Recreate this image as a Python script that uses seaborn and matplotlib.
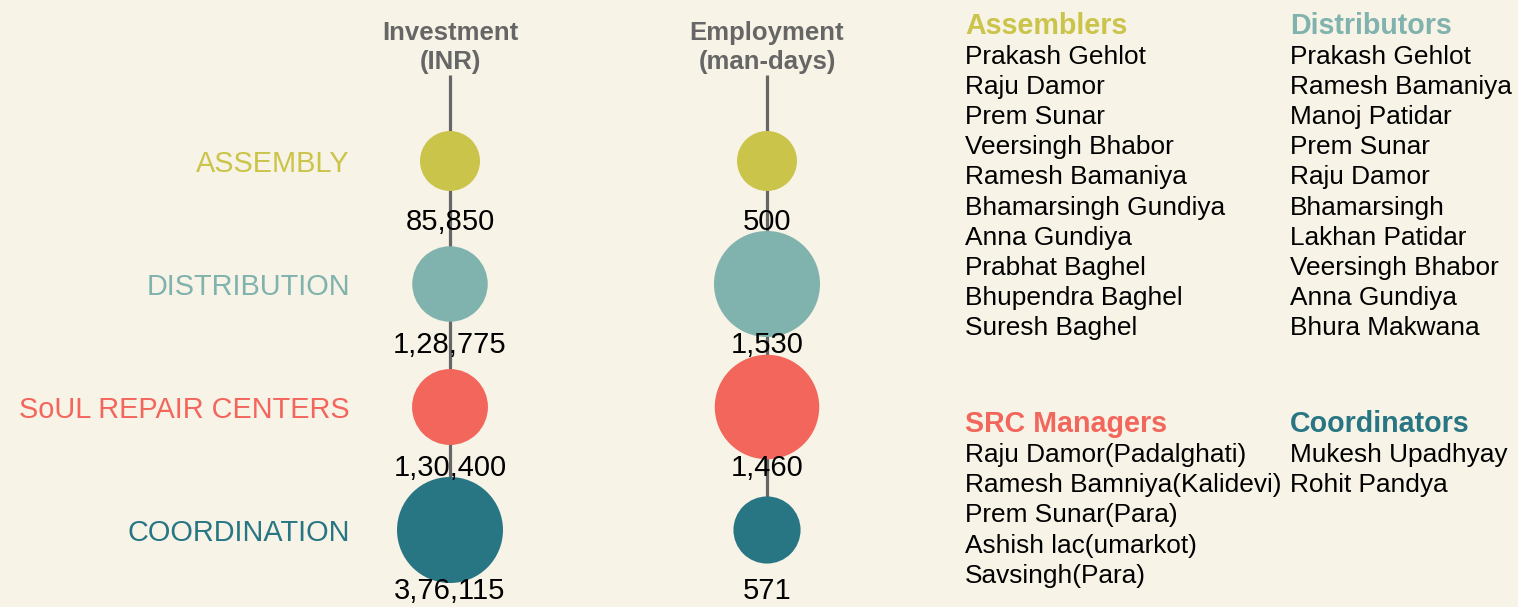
import numpy as np
import pandas as pd
import matplotlib.pyplot as plt
import seaborn as sns
from matplotlib.colors import LogNorm

# ============================
# DATA
# ============================
stages = ["ASSEMBLY", "DISTRIBUTION", "SoUL REPAIR CENTERS", "COORDINATION"]
stage_colors = ["#CBC44A", "#80B2AE", "#F2665C", "#287684"]
investment = [85850, 128775, 130400, 376115]
employment = [500, 1530, 1460, 571]
metric_titles = ["Investment\n(INR)", "Employment\n(man-days)"]

assemblers = ["Prakash Gehlot", "Raju Damor", "Prem Sunar", "Veersingh Bhabor",
              "Ramesh Bamaniya", "Bhamarsingh Gundiya", "Anna Gundiya",
              "Prabhat Baghel", "Bhupendra Baghel", "Suresh Baghel"]
distributors = ["Prakash Gehlot", "Ramesh Bamaniya", "Manoj Patidar", "Prem Sunar",
                "Raju Damor", "Bhamarsingh", "Lakhan Patidar", "Veersingh Bhabor",
                "Anna Gundiya", "Bhura Makwana"]
src_managers = ["Raju Damor(Padalghati)", "Ramesh Bamniya(Kalidevi)", "Prem Sunar(Para)",
                "Ashish lac(umarkot)", "Savsingh(Para)"]
coordinators = ["Mukesh Upadhyay", "Rohit Pandya"]

# ============================
# STYLE
# ============================
BG = "#F7F3E6"
GRAY = "#666666"
sns.set_style("white")
plt.rcParams["font.family"] = ["Liberation Sans", "DejaVu Sans"]

W, H = 1518, 607


def indian(n):
    s = str(n)
    if len(s) <= 3:
        return s
    head, tail = s[:-3], s[-3:]
    groups = []
    while len(head) > 2:
        groups.insert(0, head[-2:])
        head = head[:-2]
    if head:
        groups.insert(0, head)
    return ",".join(groups) + "," + tail


fig = plt.figure(figsize=(W / 100, H / 100), dpi=100, facecolor=BG)
ax = fig.add_axes([0, 0, 1, 1])
ax.set_facecolor(BG)

# column spacing 317 px, row spacing 123 px, first column at x=450, first row at y=161
COL0, COLSTEP, ROW0, ROWSTEP = 450, 317, 161, 123
line_top = (75 - ROW0) / ROWSTEP

for j, (vals, title) in enumerate(zip([investment, employment], metric_titles)):
    df = pd.DataFrame({"stage": stages, "value": vals,
                       "x": j, "y": np.arange(len(stages))})
    ax.vlines(j, line_top, len(stages) - 1, color=GRAY, lw=2.3, zorder=1)
    sns.scatterplot(data=df, x="x", y="y", hue="stage", palette=stage_colors,
                    size="value", sizes=(1866, 5825),
                    size_norm=LogNorm(min(vals), max(vals)),
                    legend=False, linewidth=0, alpha=1, ax=ax, zorder=3)
    for i, v in enumerate(vals):
        ax.annotate(indian(v), (j, i), xytext=(0, -44), textcoords="offset points",
                    ha="center", va="center", fontsize=21, color="black", zorder=4)
    ax.annotate(title, (j, line_top), xytext=(0, 1), textcoords="offset points",
                ha="center", va="bottom", fontsize=18.5, fontweight="bold",
                color=GRAY, linespacing=1.22)

for i, (name, c) in enumerate(zip(stages, stage_colors)):
    ax.annotate(name, (0, i), xytext=(-72, -2), textcoords="offset points",
                ha="right", va="center", fontsize=20.8, color=c)

ax.set_xlim(-COL0 / COLSTEP, (W - COL0) / COLSTEP)
ax.set_ylim((H - ROW0) / ROWSTEP, -ROW0 / ROWSTEP)
ax.set_axis_off()

# ============================
# NAME LISTS
# ============================
groups = [("Assemblers", assemblers, stage_colors[0], 965, 34),
          ("Distributors", distributors, stage_colors[1], 1290, 34),
          ("SRC Managers", src_managers, stage_colors[2], 965, 432.5),
          ("Coordinators", coordinators, stage_colors[3], 1290, 432.5)]
for head, names, c, x, yb in groups:
    fig.text(x / W, 1 - yb / H, head, ha="left", va="baseline",
             fontsize=20.6, fontweight="bold", color=c)
    for k, nm in enumerate(names):
        fig.text(x / W, 1 - (yb + 29.5 + 30.2 * k) / H, nm, ha="left",
                 va="baseline", fontsize=18.9, color="black")

fig.savefig("out.png", dpi=100, facecolor=BG)
